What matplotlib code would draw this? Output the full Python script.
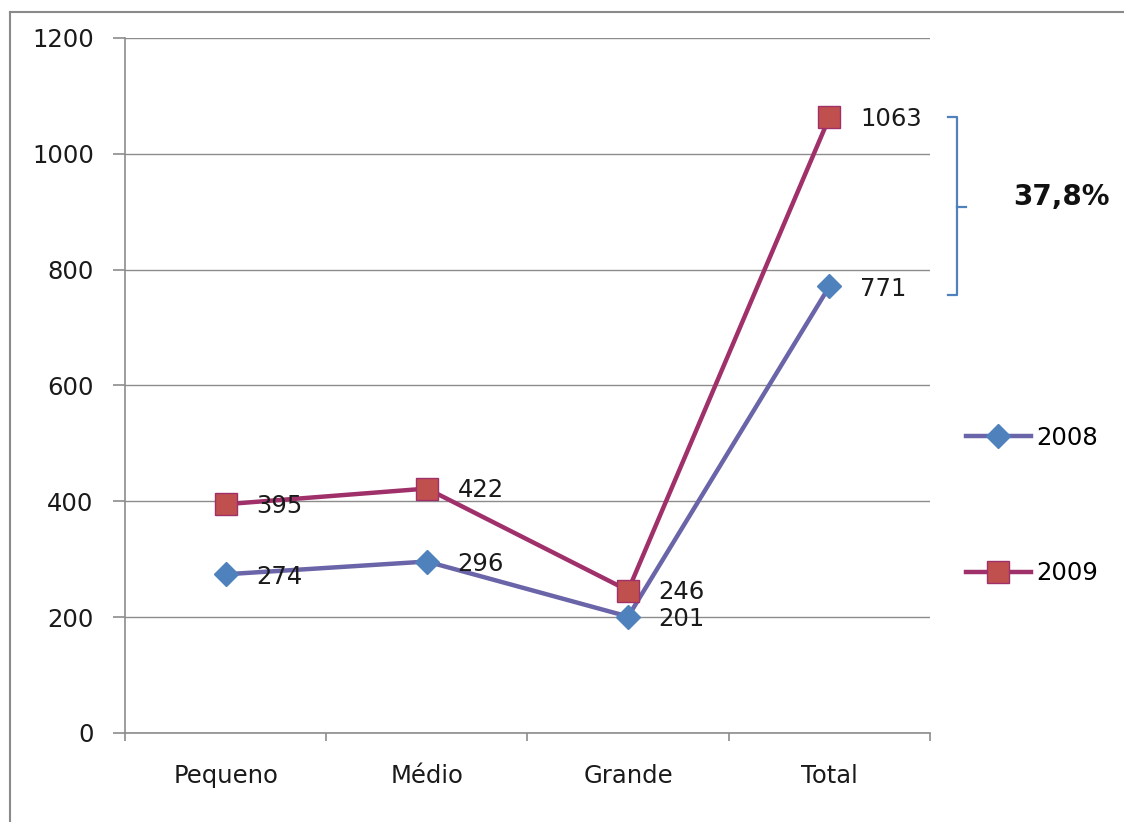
import matplotlib.pyplot as plt
from matplotlib.lines import Line2D
import matplotlib.transforms as mtransforms

# Data
categories = ["Pequeno", "Médio", "Grande", "Total"]
years = ["2008", "2009"]
values_2008 = [274, 296, 201, 771]
values_2009 = [395, 422, 246, 1063]
growth_label = "37,8%"

line_2008 = "#6A64A8"
marker_2008 = "#4F81BD"
line_2009 = "#A0306A"
marker_2009 = "#C0504D"
grid_gray = "#8C8C8C"
fs = 17.5

fig = plt.figure(figsize=(11.24, 8.22), dpi=100)
ax = fig.add_axes([0.1112, 0.1083, 0.7162, 0.8455])

x = list(range(len(categories)))
ax.plot(x, values_2008, color=line_2008, lw=3.2, marker="D", ms=12,
        mfc=marker_2008, mec=marker_2008, label=years[0], zorder=3)
ax.plot(x, values_2009, color=line_2009, lw=3.2, marker="s", ms=16,
        mfc=marker_2009, mec=line_2009, mew=1, label=years[1], zorder=4)

# data labels to the right of each point
for xi, v in zip(x, values_2008):
    ax.annotate(str(v), (xi, v), xytext=(22, -2), textcoords="offset points",
                ha="left", va="center", fontsize=fs, color="#1a1a1a", zorder=5)
for xi, v in zip(x, values_2009):
    ax.annotate(str(v), (xi, v), xytext=(22, -1), textcoords="offset points",
                ha="left", va="center", fontsize=fs, color="#1a1a1a", zorder=5)

ax.set_xlim(-0.5, 3.5)
ax.set_ylim(0, 1200)
ax.set_yticks(range(0, 1201, 200))
ax.set_xticks(x)
ax.set_xticklabels(categories)
ax.set_xticks([-0.5, 0.5, 1.5, 2.5, 3.5], minor=True)
ax.tick_params(axis="x", which="major", length=0, pad=22, labelsize=fs)
ax.tick_params(axis="x", which="minor", length=6, width=1.2, color=grid_gray, direction="out")
ax.tick_params(axis="y", length=8.5, width=1.2, color=grid_gray, pad=14, labelsize=fs)
for lbl in ax.get_xticklabels() + ax.get_yticklabels():
    lbl.set_color("#1a1a1a")

ax.grid(axis="y", color=grid_gray, lw=1)
ax.set_axisbelow(True)
for side in ["top", "right"]:
    ax.spines[side].set_visible(False)
for side in ["left", "bottom"]:
    ax.spines[side].set_color(grid_gray)
    ax.spines[side].set_linewidth(1.2)

# bracket showing the growth of the total
trans = mtransforms.blended_transform_factory(ax.transAxes, ax.transData)
top = values_2009[-1]
bottom = values_2008[-1] - 15
mid = (top + bottom) / 2 - 1
bx0, bx1, bx2 = 1.022, 1.034, 1.045
bracket_kw = dict(color=marker_2008, lw=1.6, transform=trans, clip_on=False)
ax.plot([bx0, bx1, bx1, bx0], [top, top, bottom, bottom], **bracket_kw)
ax.plot([bx1, bx2], [mid, mid], **bracket_kw)
ax.text(1.163, mid + 17, growth_label, transform=trans, ha="center", va="center",
        fontsize=20, fontweight="bold", color="#111111")

ax.legend(loc="center left", bbox_to_anchor=(0.859, 0.385), bbox_transform=fig.transFigure,
          frameon=False, fontsize=fs, labelspacing=4.6, handlelength=2.7,
          handletextpad=0.2, borderpad=0, borderaxespad=0)

# outer chart border
fig.add_artist(Line2D([0.009, 1.0], [0.986, 0.986], color="#8a8a8a", lw=1.5))
fig.add_artist(Line2D([0.009, 0.009], [0.0, 0.986], color="#8a8a8a", lw=1.5))

fig.savefig("out.png", dpi=100)
